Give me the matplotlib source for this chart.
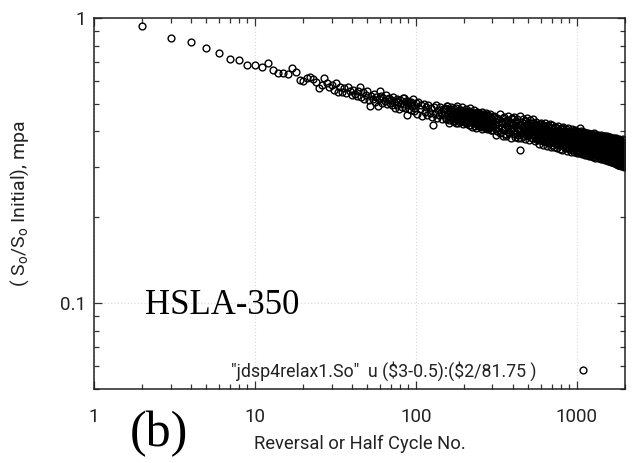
import numpy as np
import matplotlib
matplotlib.use("Agg")
import matplotlib.pyplot as plt
from matplotlib import ticker

plt.rcParams['font.family'] = ['Roboto', 'DejaVu Sans']
plt.rcParams['mathtext.fontset'] = 'custom'
plt.rcParams['mathtext.rm'] = 'Roboto'
plt.rcParams['mathtext.it'] = 'Roboto:italic'

# ---- data ----
# half cycles 2..21
x_A = list(range(2, 22))
y_A = [0.935, 0.853, 0.824, 0.787, 0.752, 0.717, 0.713, 0.683, 0.683, 0.674,
       0.695, 0.656, 0.639, 0.639, 0.634, 0.669, 0.647, 0.606, 0.601, 0.614]

# half cycles 22..100
y_B = [0.620, 0.611, 0.598, 0.566, 0.581, 0.617, 0.590, 0.572, 0.583, 0.561,
       0.594, 0.552, 0.574, 0.549, 0.566, 0.547, 0.571, 0.556, 0.538, 0.560,
       0.543, 0.531, 0.555, 0.574, 0.529, 0.548, 0.520, 0.537, 0.553, 0.516,
       0.490, 0.534, 0.521, 0.541, 0.509, 0.527, 0.490, 0.519, 0.555, 0.532,
       0.505, 0.524, 0.511, 0.537, 0.498, 0.518, 0.526, 0.503, 0.515, 0.494,
       0.530, 0.507, 0.485, 0.512, 0.521, 0.496, 0.509, 0.480, 0.517, 0.502,
       0.489, 0.525, 0.498, 0.525, 0.484, 0.510, 0.458, 0.495, 0.513, 0.481,
       0.502, 0.476, 0.507, 0.490, 0.518, 0.472, 0.497, 0.485, 0.505]
x_B = list(range(22, 22 + len(y_B)))

# even half cycles 102..300
y_C = [0.462, 0.509, 0.478, 0.495, 0.455, 0.501, 0.470, 0.488, 0.458, 0.497,
       0.466, 0.483, 0.451, 0.420, 0.486, 0.462, 0.495, 0.447, 0.475, 0.456,
       0.489, 0.468, 0.443, 0.479, 0.458, 0.484, 0.447, 0.490, 0.462, 0.438,
       0.474, 0.451, 0.480, 0.443, 0.466, 0.436, 0.472, 0.455, 0.483, 0.441,
       0.461, 0.429, 0.468, 0.452, 0.476, 0.437, 0.458, 0.445, 0.470, 0.432,
       0.455, 0.466, 0.427, 0.449, 0.461, 0.436, 0.472, 0.444, 0.423, 0.457,
       0.439, 0.466, 0.428, 0.451, 0.443, 0.419, 0.459, 0.434, 0.462, 0.425,
       0.448, 0.437, 0.455, 0.418, 0.442, 0.429, 0.460, 0.433, 0.414, 0.446,
       0.426, 0.452, 0.421, 0.440, 0.431, 0.457, 0.412, 0.436, 0.423, 0.449,
       0.428, 0.410, 0.441, 0.419, 0.450, 0.432, 0.406, 0.438, 0.421, 0.444]
x_C = list(range(102, 102 + 2 * len(y_C), 2))

# odd half cycles 153..299
y_E = [0.478, 0.441, 0.492, 0.455, 0.430, 0.470, 0.487, 0.446, 0.463, 0.435,
       0.481, 0.449, 0.428, 0.468, 0.490, 0.440, 0.459, 0.475, 0.432, 0.466,
       0.444, 0.486, 0.424, 0.457, 0.471, 0.437, 0.478, 0.429, 0.462, 0.451,
       0.420, 0.468, 0.440, 0.482, 0.433, 0.455, 0.416, 0.463, 0.447, 0.474,
       0.428, 0.458, 0.412, 0.451, 0.470, 0.435, 0.422, 0.465, 0.444, 0.418,
       0.457, 0.431, 0.468, 0.409, 0.447, 0.425, 0.461, 0.438, 0.415, 0.452,
       0.429, 0.463, 0.407, 0.444, 0.421, 0.456, 0.434, 0.413, 0.459, 0.426,
       0.447, 0.404, 0.437, 0.418]
x_E = list(range(153, 153 + 2 * len(y_E), 2))

# half cycles 305, 310, ..., 2000
y_D = [0.448, 0.412, 0.433, 0.401, 0.441, 0.420, 0.395, 0.436, 0.410, 0.447,
       0.404, 0.428, 0.392, 0.439, 0.415, 0.398, 0.432, 0.409, 0.444, 0.401,
       0.425, 0.393, 0.418, 0.436, 0.402, 0.389, 0.427, 0.410, 0.345, 0.421,
       0.396, 0.431, 0.385, 0.414, 0.403, 0.437, 0.391, 0.419, 0.399, 0.426,
       0.388, 0.411, 0.395, 0.423, 0.380, 0.406, 0.430, 0.392, 0.417, 0.384,
       0.409, 0.376, 0.420, 0.398, 0.387, 0.413, 0.372, 0.402, 0.425, 0.383,
       0.395, 0.412, 0.371, 0.404, 0.389, 0.418, 0.378, 0.399, 0.366, 0.408,
       0.383, 0.414, 0.374, 0.396, 0.405, 0.365, 0.391, 0.410, 0.379, 0.401,
       0.369, 0.394, 0.382, 0.407, 0.372, 0.416, 0.387, 0.361, 0.398, 0.376,
       0.403, 0.367, 0.389, 0.374, 0.396, 0.358, 0.385, 0.401, 0.370, 0.392,
       0.364, 0.387, 0.398, 0.356, 0.380, 0.371, 0.394, 0.362, 0.384, 0.403,
       0.368, 0.390, 0.353, 0.381, 0.372, 0.397, 0.360, 0.378, 0.388, 0.351,
       0.384, 0.366, 0.393, 0.357, 0.376, 0.395, 0.349, 0.371, 0.386, 0.362,
       0.389, 0.354, 0.375, 0.367, 0.398, 0.347, 0.380, 0.359, 0.385, 0.370,
       0.352, 0.377, 0.392, 0.360, 0.383, 0.345, 0.371, 0.387, 0.356, 0.410,
       0.374, 0.349, 0.381, 0.362, 0.394, 0.343, 0.369, 0.385, 0.355, 0.377,
       0.358, 0.383, 0.341, 0.370, 0.389, 0.352, 0.376, 0.346, 0.380, 0.363,
       0.391, 0.350, 0.372, 0.339, 0.366, 0.384, 0.356, 0.375, 0.344, 0.379,
       0.361, 0.386, 0.337, 0.368, 0.353, 0.381, 0.346, 0.373, 0.390, 0.341,
       0.365, 0.348, 0.378, 0.336, 0.370, 0.357, 0.388, 0.343, 0.362, 0.374,
       0.339, 0.367, 0.382, 0.347, 0.360, 0.333, 0.376, 0.352, 0.369, 0.385,
       0.342, 0.363, 0.335, 0.372, 0.354, 0.380, 0.331, 0.358, 0.377, 0.345,
       0.366, 0.334, 0.361, 0.383, 0.340, 0.355, 0.371, 0.329, 0.364, 0.350,
       0.375, 0.338, 0.357, 0.332, 0.368, 0.346, 0.379, 0.327, 0.360, 0.353,
       0.336, 0.370, 0.344, 0.362, 0.325, 0.356, 0.381, 0.339, 0.365, 0.330,
       0.359, 0.343, 0.373, 0.323, 0.351, 0.367, 0.334, 0.357, 0.376, 0.328,
       0.352, 0.369, 0.321, 0.345, 0.362, 0.337, 0.374, 0.326, 0.355, 0.341,
       0.366, 0.319, 0.349, 0.358, 0.331, 0.371, 0.340, 0.324, 0.361, 0.347,
       0.333, 0.356, 0.318, 0.380, 0.344, 0.327, 0.363, 0.338, 0.352, 0.316,
       0.368, 0.329, 0.348, 0.315, 0.357, 0.336, 0.372, 0.320, 0.345, 0.359,
       0.313, 0.339, 0.364, 0.326, 0.350, 0.311, 0.343, 0.370, 0.322, 0.354,
       0.334, 0.312, 0.361, 0.330, 0.347, 0.309, 0.366, 0.325, 0.340, 0.356,
       0.317, 0.343, 0.310, 0.358, 0.328, 0.349, 0.308, 0.335, 0.362, 0.321,
       0.346, 0.311, 0.337, 0.355, 0.314, 0.341, 0.324, 0.360, 0.307, 0.332]
x_D = list(range(305, 305 + 5 * len(y_D), 5))

# half cycles 302, 307, ..., 1997
y_F = [0.405, 0.455, 0.421, 0.390, 0.446, 0.413, 0.460, 0.398, 0.431, 0.387,
       0.450, 0.408, 0.385, 0.437, 0.419, 0.455, 0.394, 0.428, 0.381, 0.446,
       0.412, 0.448, 0.384, 0.429, 0.396, 0.441, 0.378, 0.423, 0.405, 0.452,
       0.381, 0.420, 0.444, 0.392, 0.411, 0.375, 0.434, 0.400, 0.447, 0.386,
       0.418, 0.373, 0.439, 0.398, 0.427, 0.379, 0.412, 0.443, 0.390, 0.421,
       0.369, 0.404, 0.432, 0.381, 0.418, 0.395, 0.362, 0.426, 0.386, 0.410,
       0.428, 0.374, 0.397, 0.421, 0.360, 0.406, 0.384, 0.430, 0.369, 0.413,
       0.392, 0.357, 0.420, 0.377, 0.403, 0.365, 0.425, 0.386, 0.354, 0.411,
       0.396, 0.420, 0.359, 0.384, 0.409, 0.352, 0.375, 0.416, 0.389, 0.363,
       0.413, 0.350, 0.393, 0.371, 0.418, 0.361, 0.399, 0.347, 0.385, 0.408,
       0.372, 0.410, 0.345, 0.391, 0.367, 0.414, 0.355, 0.382, 0.402, 0.349,
       0.397, 0.359, 0.409, 0.343, 0.385, 0.366, 0.412, 0.352, 0.391, 0.373,
       0.346, 0.403, 0.362, 0.388, 0.340, 0.380, 0.407, 0.355, 0.394, 0.344,
       0.400, 0.363, 0.338, 0.391, 0.371, 0.405, 0.350, 0.383, 0.341, 0.396,
       0.366, 0.336, 0.402, 0.357, 0.389, 0.343, 0.378, 0.399, 0.335, 0.368,
       0.393, 0.340, 0.372, 0.401, 0.351, 0.384, 0.333, 0.364, 0.397, 0.346,
       0.379, 0.398, 0.337, 0.361, 0.391, 0.331, 0.373, 0.354, 0.395, 0.342,
       0.369, 0.332, 0.389, 0.352, 0.396, 0.338, 0.378, 0.360, 0.329, 0.386,
       0.348, 0.393, 0.358, 0.330, 0.380, 0.345, 0.392, 0.327, 0.366, 0.384,
       0.391, 0.335, 0.361, 0.385, 0.326, 0.373, 0.349, 0.394, 0.330, 0.367,
       0.381, 0.324, 0.354, 0.390, 0.338, 0.371, 0.328, 0.362, 0.388, 0.341,
       0.375, 0.345, 0.389, 0.322, 0.367, 0.350, 0.386, 0.328, 0.369, 0.339,
       0.350, 0.385, 0.321, 0.372, 0.343, 0.388, 0.330, 0.359, 0.377, 0.325,
       0.383, 0.347, 0.319, 0.364, 0.387, 0.335, 0.371, 0.322, 0.380, 0.341,
       0.355, 0.318, 0.385, 0.342, 0.373, 0.329, 0.362, 0.386, 0.317, 0.350,
       0.381, 0.331, 0.363, 0.315, 0.376, 0.340, 0.384, 0.322, 0.358, 0.336,
       0.314, 0.378, 0.348, 0.330, 0.382, 0.320, 0.360, 0.339, 0.379, 0.312,
       0.356, 0.377, 0.328, 0.343, 0.312, 0.380, 0.334, 0.359, 0.318, 0.372,
       0.375, 0.311, 0.348, 0.330, 0.369, 0.321, 0.357, 0.309, 0.376, 0.337,
       0.322, 0.361, 0.308, 0.378, 0.333, 0.352, 0.314, 0.370, 0.340, 0.306,
       0.374, 0.328, 0.355, 0.305, 0.365, 0.335, 0.318, 0.377, 0.310, 0.347,
       0.360, 0.304, 0.344, 0.372, 0.316, 0.351, 0.307, 0.368, 0.329, 0.303,
       0.371, 0.332, 0.352, 0.304, 0.364, 0.319, 0.345, 0.302, 0.375, 0.326,
       0.305, 0.366, 0.331, 0.350, 0.301, 0.373, 0.315, 0.344, 0.306, 0.363]
x_F = list(range(302, 302 + 5 * len(y_F), 5))

x_all = np.array(x_A + x_B + x_C + x_E + x_D + x_F, dtype=float)
y_all = np.array(y_A + y_B + y_C + y_E + y_D + y_F)

x_ticks = [1, 10, 100, 1000]
y_ticks = [0.1, 1]
legend_label = r'"jdsp4relax1.So"  u (\$3-0.5):(\$2/81.75 )'

# ---- figure ----
fig = plt.figure(figsize=(6.32, 4.63), dpi=100)
ax = fig.add_axes([94 / 632, 1 - 389 / 463, 531 / 632, 371 / 463])

ax.plot(x_all, y_all, linestyle='none', marker='o', markersize=4.9,
        markerfacecolor='none', markeredgecolor='black', markeredgewidth=1.0,
        label=legend_label)

ax.set_xscale('log')
ax.set_yscale('log')
ax.set_xlim(1, 2000)
ax.set_ylim(0.05, 1)

ax.xaxis.set_major_locator(ticker.FixedLocator(x_ticks))
ax.yaxis.set_major_locator(ticker.FixedLocator(y_ticks))
ax.xaxis.set_major_formatter(ticker.FormatStrFormatter('%g'))
ax.yaxis.set_major_formatter(ticker.FormatStrFormatter('%g'))
ax.xaxis.set_minor_locator(ticker.LogLocator(base=10, subs=np.arange(2, 10)))
ax.yaxis.set_minor_locator(ticker.LogLocator(base=10, subs=np.arange(2, 10)))
ax.xaxis.set_minor_formatter(ticker.NullFormatter())
ax.yaxis.set_minor_formatter(ticker.NullFormatter())

ax.tick_params(which='both', direction='in', top=True, right=True,
               color='#333333', width=0.9)
ax.tick_params(which='major', length=6, labelsize=13.5, labelcolor='#222222')
ax.tick_params(which='minor', length=3.5)
ax.tick_params(axis='x', which='major', pad=14)
ax.tick_params(axis='y', which='major', pad=6)

for s in ax.spines.values():
    s.set_linewidth(1.1)
    s.set_color('#222222')

ax.grid(True, which='major', linestyle=(0, (1, 2)), color='#d8d8d8', linewidth=0.8)

ax.set_ylabel(r'( S$_\mathrm{o}$/S$_\mathrm{o}$ Initial), mpa', fontsize=14,
              color='#222222')
ax.yaxis.set_label_coords(-0.118, 0.5)
ax.set_xlabel('Reversal or Half Cycle No.', fontsize=13.2, color='#222222')
ax.xaxis.set_label_coords(0.5, -0.125)

leg = ax.legend(loc='lower right', bbox_to_anchor=(0.965, -0.011), markerfirst=False,
                frameon=False, fontsize=12.8, handlelength=1.2, handletextpad=2.05,
                borderaxespad=0.3)
for t in leg.get_texts():
    t.set_color('#222222')

ax.text(0.096, 0.225, 'HSLA-350', transform=ax.transAxes, ha='left', va='center',
        fontsize=25, family='Liberation Serif', color='black')
fig.text(0.252, 0.063, '(b)', ha='center', va='center', fontsize=36,
         family='Liberation Serif', color='black')

fig.savefig('out.png', dpi=100)
